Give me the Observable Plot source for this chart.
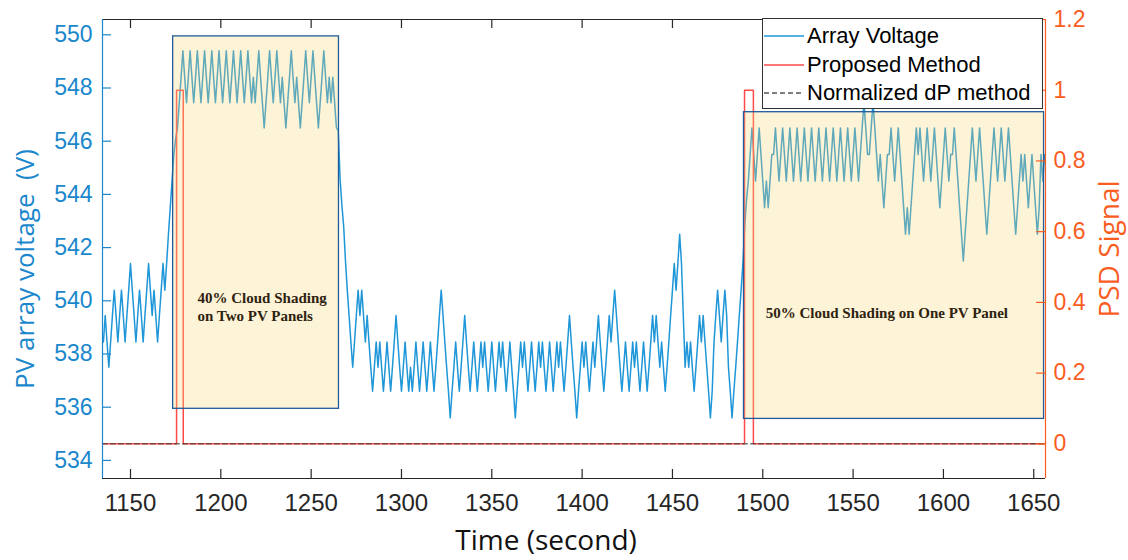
<!DOCTYPE html>
<html><head><meta charset="utf-8">
<script src="https://cdn.jsdelivr.net/npm/d3@7"></script>
<script src="https://cdn.jsdelivr.net/npm/@observablehq/plot@0.6"></script>
<style>
body{margin:0;background:#fff;}
#wrap{position:relative;width:1128px;height:560px;overflow:hidden;}
#legend{position:absolute;left:762px;top:18px;width:281px;height:91px;border:1px solid #333;background:#fff;box-sizing:border-box;font-family:"Liberation Sans",Arial,sans-serif;font-size:22px;color:#000;}
#legend .row{position:absolute;left:0;height:28px;display:flex;align-items:center;white-space:nowrap;}
#legend svg{margin-left:1px;margin-right:3px;}
</style></head><body><div id="wrap"><div id="legend"></div></div>
<script>
// ---------- data ----------
const xDomain = [1134.5, 1656.5];
const yDomain = [533.32, 550.575];
const psdDomain = [-0.098, 1.2];
const xTicks = [1150, 1200, 1250, 1300, 1350, 1400, 1450, 1500, 1550, 1600, 1650];
const yTicks = [534, 536, 538, 540, 542, 544, 546, 548, 550];
const psdTicks = [0, 0.2, 0.4, 0.6, 0.8, 1, 1.2];
const psdTickLabels = ["0", "0.2", "0.4", "0.6", "0.8", "1", "1.2"];

// PV array voltage, one sample per second, in four stretches
const preBoxStart = 1135;
const preBoxVoltage = [
 538.45, 539.45, 538.45, 537.5, 538.45, 539.45, 540.4, 539.45, 538.45, 539.45,
 540.4, 539.45, 538.45, 539.45, 540.4, 541.4, 540.4, 539.45, 538.45, 539.45,
 540.4, 539.45, 538.45, 539.45, 540.4, 541.4, 540.4, 539.45, 540.4, 539.45,
 538.45, 539.45, 540.4, 541.4, 540.4, 541.4, 542.5, 543.5, 544.5, 545.5];
const box1Start = 1175;
const box1Voltage = [
 546.1, 546.5, 547.45, 548.4, 549.4, 548.4, 547.45, 548.4, 549.4, 548.4,
 547.45, 548.4, 549.4, 548.4, 547.45, 548.4, 549.4, 548.4, 547.45, 548.4,
 549.4, 548.4, 547.45, 548.4, 549.4, 548.4, 547.45, 548.4, 549.4, 548.4,
 547.45, 548.4, 549.4, 548.4, 547.45, 548.4, 549.4, 548.4, 547.45, 548.4,
 549.4, 548.4, 547.45, 548.4, 547.45, 548.4, 549.4, 548.4, 547.45, 546.5,
 547.45, 548.4, 549.4, 548.4, 547.45, 548.4, 549.4, 548.4, 547.45, 548.4,
 547.45, 546.5, 547.45, 548.4, 549.4, 548.4, 547.45, 548.4, 547.45, 546.5,
 547.45, 548.4, 549.4, 548.4, 547.45, 548.4, 549.4, 548.4, 547.45, 546.5,
 547.45, 548.4, 549.4, 548.4, 547.45, 548.4, 547.45, 548.4, 547.45, 546.5];
const middleStart = 1265;
const middleVoltage = [
 546.4, 544.6, 543.6, 542.8, 541.5, 540.4, 539.45, 538.45, 537.5, 538.45,
 539.45, 540.4, 539.45, 540.4, 539.45, 538.45, 539.45, 538.45, 537.5, 536.6,
 537.5, 538.45, 537.5, 538.45, 537.5, 536.6, 537.5, 538.45, 537.5, 536.6,
 537.5, 538.45, 539.45, 538.45, 537.5, 536.6, 537.5, 538.45, 537.5, 536.6,
 537.5, 536.6, 537.5, 538.45, 537.5, 536.6, 537.5, 538.45, 537.5, 536.6,
 537.5, 538.45, 537.5, 536.6, 537.5, 538.45, 539.45, 540.4, 539.45, 538.45,
 537.5, 536.6, 535.6, 536.6, 537.5, 538.45, 537.5, 536.6, 537.5, 538.45,
 539.45, 538.45, 537.5, 536.6, 537.5, 538.45, 537.5, 536.6, 537.5, 538.45,
 537.5, 538.45, 537.5, 536.6, 537.5, 538.45, 537.5, 536.6, 537.5, 538.45,
 537.5, 538.45, 537.5, 536.6, 537.5, 538.45, 537.5, 536.6, 535.6, 536.6,
 537.5, 538.45, 537.5, 538.45, 537.5, 536.6, 537.5, 538.45, 537.5, 536.6,
 537.5, 538.45, 537.5, 538.45, 537.5, 536.6, 537.5, 538.45, 537.5, 536.6,
 537.5, 538.45, 537.5, 538.45, 537.5, 536.6, 537.5, 538.45, 539.45, 538.45,
 537.5, 536.6, 535.6, 536.6, 537.5, 538.45, 537.5, 538.45, 537.5, 536.6,
 537.5, 538.45, 537.5, 538.45, 539.45, 538.45, 537.5, 536.6, 537.5, 538.45,
 539.45, 538.45, 539.45, 540.4, 539.45, 538.45, 537.5, 536.6, 537.5, 538.45,
 537.5, 536.6, 537.5, 538.45, 537.5, 538.45, 537.5, 536.6, 537.5, 538.45,
 537.5, 536.6, 537.5, 538.45, 539.45, 538.45, 539.45, 538.45, 537.5, 538.45,
 537.5, 536.6, 537.5, 538.45, 539.45, 540.4, 541.4, 540.4, 541.4, 542.5,
 541.4, 539.45, 537.5, 538.45, 537.5, 538.45, 537.5, 536.6, 537.5, 538.45,
 539.45, 538.45, 539.45, 538.45, 537.5, 536.6, 535.6, 536.6, 538.45, 539.45,
 540.4, 539.45, 538.45, 539.45, 540.4, 539.45, 537.5, 536.6, 535.6, 536.6,
 537.5, 538.45, 539.45, 540.4, 541.4, 542.8, 543.8, 544.5, 545.5, 546.5];
const box2Start = 1495;
const box2Voltage = [
 545.5, 544.5, 545.5, 546.5, 545.5, 544.5, 543.5, 544.5, 543.5, 544.5,
 545.5, 545.5, 546.5, 545.5, 544.5, 545.5, 546.5, 545.5, 544.5, 545.5,
 546.5, 545.5, 544.5, 545.5, 546.5, 545.5, 544.5, 545.5, 546.5, 545.5,
 544.5, 545.5, 546.5, 545.5, 544.5, 545.5, 546.5, 545.5, 544.5, 545.5,
 546.5, 545.5, 544.5, 545.5, 546.5, 545.5, 544.5, 545.5, 546.5, 545.5,
 544.5, 545.5, 546.5, 545.5, 544.5, 545.5, 546.5, 545.5, 544.5, 545.5,
 546.5, 547.45, 546.5, 545.5, 545.5, 546.5, 547.45, 546.5, 545.5, 544.5,
 545.5, 544.5, 543.5, 544.5, 545.5, 545.5, 546.5, 545.5, 544.5, 545.5,
 546.5, 545.5, 544.5, 543.5, 542.5, 543.5, 542.5, 543.5, 544.5, 545.5,
 546.5, 545.5, 546.5, 545.5, 544.5, 545.5, 546.5, 545.5, 544.5, 545.5,
 546.5, 545.5, 544.5, 543.5, 544.5, 545.5, 546.5, 545.5, 544.5, 545.5,
 545.5, 546.5, 545.5, 544.5, 543.5, 542.5, 541.5, 542.5, 543.5, 544.5,
 545.5, 546.5, 545.5, 544.5, 545.5, 546.5, 545.5, 544.5, 543.5, 542.5,
 543.5, 544.5, 545.5, 546.5, 545.5, 544.5, 545.5, 546.5, 545.5, 544.5,
 545.5, 546.5, 545.5, 544.5, 543.5, 542.5, 543.5, 544.5, 545.5, 544.5,
 545.5, 544.5, 543.5, 544.5, 545.5, 544.5, 543.5, 542.5, 543.5, 545.5,
 544.5, 545.5];

// PSD signals (right axis)
const proposedTime = [1134.5, 1175.5, 1179.2, 1489.9, 1494.8, 1656.5];
const proposedPSD = [0, 1, 0, 1, 0, 0];
const normalizedTime = [1134.5, 1656.5];
const normalizedPSD = [0, 0];

// shaded cloud boxes and their notes
const boxStart = [1173.6, 1489.6];
const boxEnd = [1265.4, 1655.7];
const boxTop = [549.94, 547.09];
const boxBottom = [535.94, 535.56];
const noteText = ["40% Cloud Shading\non Two PV Panels", "50% Cloud Shading on One PV Panel"];
const noteTime = [1187.1, 1501.6];
const noteVolt = [540.42, 539.83];

const legendLabels = ["Array Voltage", "Proposed Method", "Normalized dP method"];

// ---------- styling ----------
const blueAxis = "#1A87CC", blueLine = "#1E96D8", orange = "#F95D1F", red = "#FF4A4A", dark = "#262626";

const toV = p => yDomain[0] + (p - psdDomain[0]) / (psdDomain[1] - psdDomain[0]) * (yDomain[1] - yDomain[0]);
const segs = [[preBoxStart, preBoxVoltage], [box1Start, box1Voltage], [middleStart, middleVoltage], [box2Start, box2Voltage]];
const voltageData = segs.flatMap(([s, vals]) => vals.map((v, i) => ({t: s + i, v})));
const proposedData = proposedTime.map((t, i) => ({t, p: proposedPSD[i]}));
const normalizedData = normalizedTime.map((t, i) => ({t, p: normalizedPSD[i]}));
const boxes = boxStart.map((s, i) => ({t1: s, t2: boxEnd[i], v1: boxBottom[i], v2: boxTop[i]}));
const notes = noteText.map((text, i) => ({text, t: noteTime[i], v: noteVolt[i]}));
const psdTickV = psdTicks.map(toV);
const psdLabelMap = new Map(psdTickV.map((v, i) => [v, psdTickLabels[i]]));

const W = 1128, H = 560, mL = 102, mR = 83, mT = 19, mB = 82;
const innerW = W - mL - mR, innerH = H - mT - mB, tk = 9;

const chart = Plot.plot({
  width: W, height: H,
  marginLeft: mL, marginRight: mR, marginTop: mT, marginBottom: mB,
  style: {fontFamily: '"Liberation Sans", Arial, sans-serif', background: "#fff", overflow: "visible"},
  x: {domain: xDomain, axis: null},
  y: {domain: yDomain, axis: null},
  marks: [
    Plot.line(voltageData, {x: "t", y: "v", stroke: blueLine, strokeWidth: 1.5}),
    Plot.line(proposedData, {x: "t", y: d => toV(d.p), curve: "step-after", stroke: red, strokeWidth: 1.5}),
    Plot.line(normalizedData, {x: "t", y: d => toV(d.p), stroke: "#333", strokeWidth: 1, strokeDasharray: "5,3"}),
    Plot.rect(boxes, {x1: "t1", x2: "t2", y1: "v1", y2: "v2", fill: "#F9D878", fillOpacity: 0.3}),
    Plot.rect(boxes, {x1: "t1", x2: "t2", y1: "v1", y2: "v2", fill: "none", stroke: "#1F5C99", strokeWidth: 1.3}),
    Plot.text(notes, {x: "t", y: "v", text: "text", textAnchor: "start", lineAnchor: "top", lineHeight: 1.22,
      fontFamily: '"Liberation Serif", "DejaVu Serif", serif', fontWeight: "bold", fontSize: 15, fill: "#2E2210"}),
    // frame edges
    Plot.ruleY([yDomain[1]], {stroke: dark, strokeWidth: 1.2}),
    Plot.ruleY([yDomain[0]], {stroke: dark, strokeWidth: 1.2}),
    Plot.ruleX([xDomain[0]], {stroke: blueAxis, strokeWidth: 1.2}),
    Plot.ruleX([xDomain[1]], {stroke: orange, strokeWidth: 1.2}),
    // inward ticks
    Plot.tickX(xTicks, {x: d => d, insetTop: innerH - tk, stroke: dark, strokeWidth: 1.2}),
    Plot.tickX(xTicks, {x: d => d, insetBottom: innerH - tk, stroke: dark, strokeWidth: 1.2}),
    Plot.tickY(yTicks, {y: d => d, insetRight: innerW - tk, stroke: blueAxis, strokeWidth: 1.2}),
    Plot.tickY(psdTickV, {y: d => d, insetLeft: innerW - tk, stroke: orange, strokeWidth: 1.2}),
    // tick labels
    Plot.axisX({ticks: xTicks, anchor: "bottom", tickSize: 0, tickPadding: 15, fontSize: 24, fill: dark, label: null,
      tickFormat: d => String(d)}),
    Plot.axisY({ticks: yTicks, anchor: "left", tickSize: 0, tickPadding: 10, fontSize: 23, fill: blueAxis, label: null,
      tickFormat: d => String(d)}),
    Plot.axisY({ticks: psdTickV, anchor: "right", tickSize: 0, tickPadding: 8, fontSize: 23, fill: orange, label: null,
      tickFormat: v => psdLabelMap.get(v)}),
    // axis titles
    Plot.text(["Time (second)"], {text: d => d, frameAnchor: "bottom", textAnchor: "middle", dx: -28, dy: 71, fontSize: 28,
      fontFamily: '"Open Sans", sans-serif', fill: "#111"}),
    Plot.text(["PV array voltage  (V)"], {text: d => d, frameAnchor: "left", textAnchor: "middle", rotate: -90, dx: -77, dy: 20, fontSize: 26,
      fontFamily: '"Open Sans", sans-serif', fill: blueAxis}),
    Plot.text(["PSD Signal"], {text: d => d, frameAnchor: "right", textAnchor: "middle", rotate: -90, dx: 65, dy: 0, fontSize: 28,
      fontFamily: '"Open Sans", sans-serif', fill: orange})
  ]
});
document.getElementById("wrap").prepend(chart);

// legend (HTML overlay)
const legendStyles = [
  {stroke: blueLine, dash: null},
  {stroke: red, dash: null},
  {stroke: "#555", dash: "5,3"}
];
const leg = document.getElementById("legend");
const rowCenters = [17, 45.5, 74];
legendLabels.forEach((label, i) => {
  const row = document.createElement("div");
  row.className = "row";
  row.style.top = (rowCenters[i] - 14) + "px";
  const st = legendStyles[i];
  row.innerHTML = `<svg width="40" height="10"><line x1="0" y1="5" x2="40" y2="5" stroke="${st.stroke}" stroke-width="1.5"${st.dash ? ` stroke-dasharray="${st.dash}"` : ""}/></svg><span>${label}</span>`;
  leg.appendChild(row);
});
</script>
</body></html>
